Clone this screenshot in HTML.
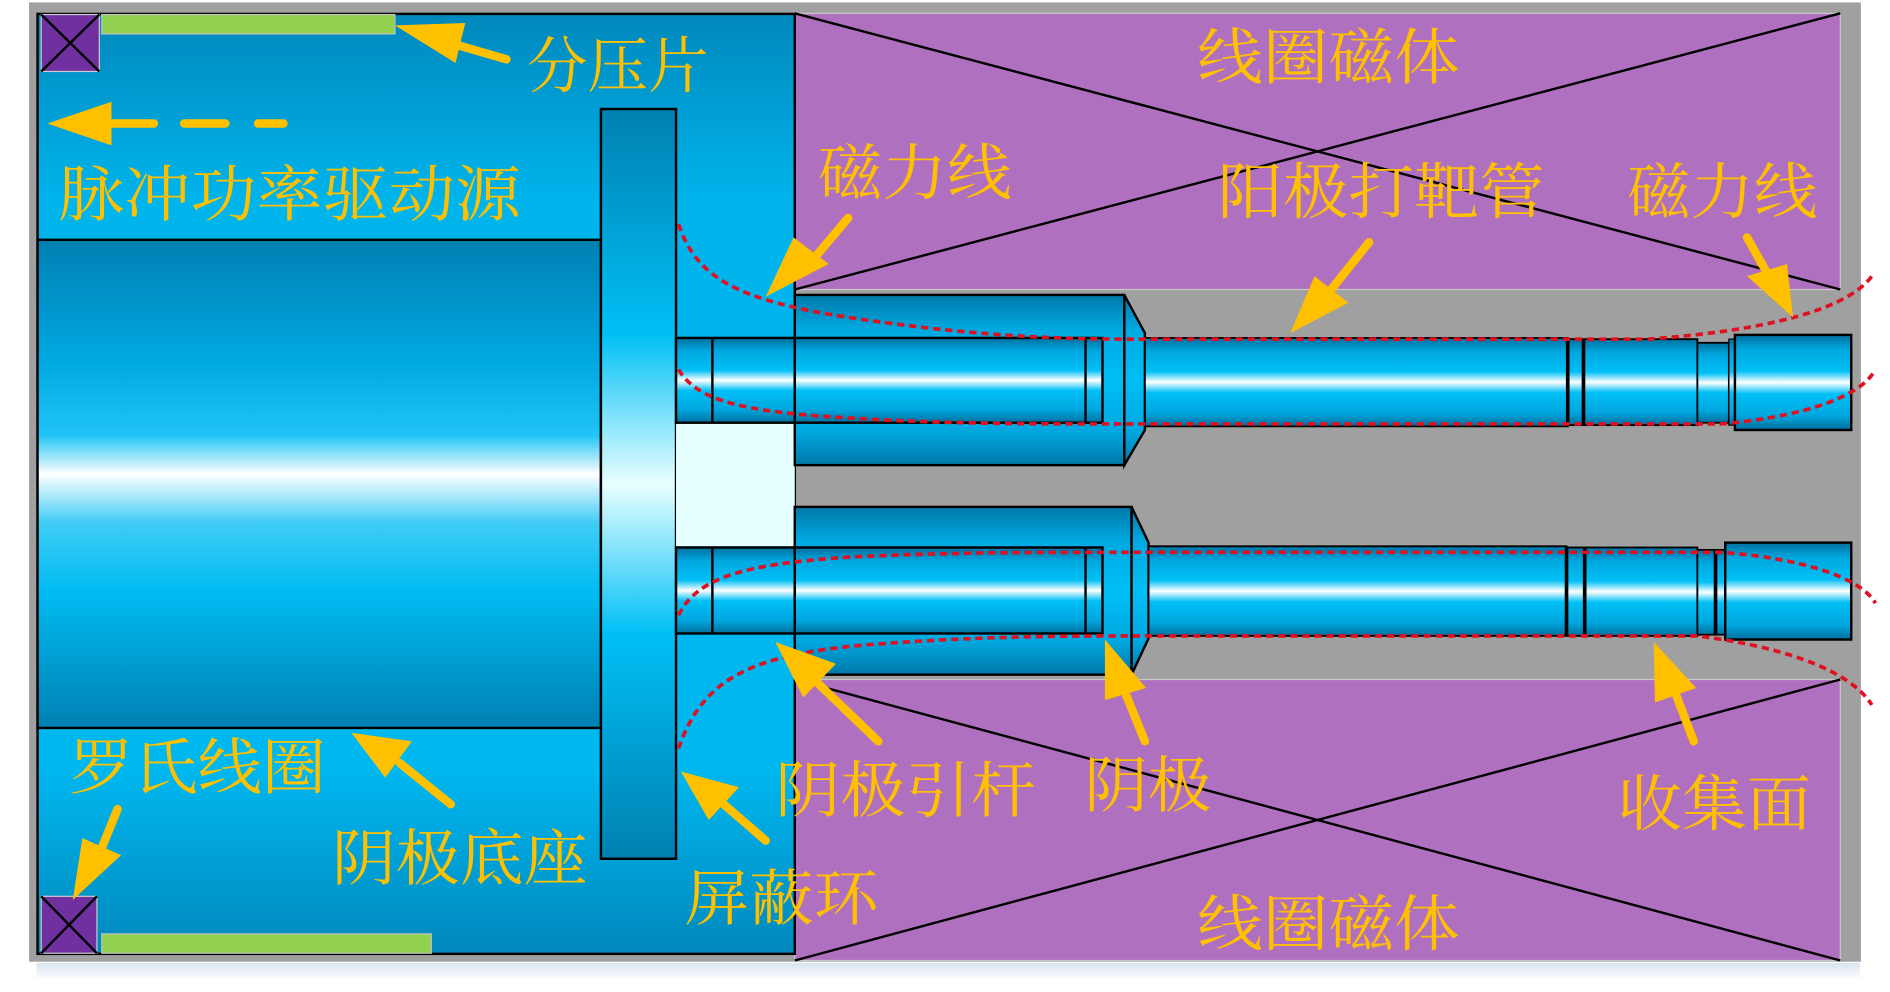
<!DOCTYPE html>
<html><head><meta charset="utf-8"><style>
html,body{margin:0;padding:0;background:#fff;}
svg{display:block;}
text{font-family:"Liberation Serif","Noto Serif CJK SC",serif;fill:#ffc000;font-size:50px;}
</style></head><body>
<svg width="1890" height="992" viewBox="0 0 1560 819" preserveAspectRatio="none" xmlns="http://www.w3.org/2000/svg">
<defs>
<linearGradient id="rod" x1="0" y1="0" x2="0" y2="1">
<stop offset="0" stop-color="#006f9e"/><stop offset="0.15" stop-color="#00a6de"/><stop offset="0.38" stop-color="#00c0f6"/><stop offset="0.5" stop-color="#ffffff"/><stop offset="0.62" stop-color="#00c0f6"/><stop offset="0.85" stop-color="#00a6de"/><stop offset="1" stop-color="#006f9e"/>
</linearGradient>
<linearGradient id="tube" x1="0" y1="0" x2="0" y2="1">
<stop offset="0" stop-color="#0078a8"/><stop offset="0.2" stop-color="#00a8e0"/><stop offset="0.5" stop-color="#00bff5"/><stop offset="0.8" stop-color="#00a8e0"/><stop offset="1" stop-color="#0078a8"/>
</linearGradient>
<linearGradient id="base" x1="0" y1="0" x2="0" y2="1">
<stop offset="0" stop-color="#0080b2"/><stop offset="0.25" stop-color="#00a8e2"/><stop offset="0.4" stop-color="#20c4f6"/><stop offset="0.48" stop-color="#ffffff"/><stop offset="0.58" stop-color="#40ccf6"/><stop offset="0.72" stop-color="#00bcf2"/><stop offset="1" stop-color="#0080b2"/>
</linearGradient>
<linearGradient id="panel" x1="0" y1="0" x2="0" y2="1">
<stop offset="0" stop-color="#0088bc"/><stop offset="0.2" stop-color="#00b4ec"/><stop offset="0.8" stop-color="#00b8f0"/><stop offset="1" stop-color="#0088bc"/>
</linearGradient>
<linearGradient id="flange" x1="0" y1="0" x2="0" y2="1">
<stop offset="0" stop-color="#0080b0"/><stop offset="0.3" stop-color="#00bff5"/><stop offset="0.5" stop-color="#e8ffff"/><stop offset="0.7" stop-color="#00bff5"/><stop offset="1" stop-color="#0080b0"/>
</linearGradient>
<linearGradient id="shade" x1="0" y1="0" x2="0" y2="1">
<stop offset="0" stop-color="#d8e4ee"/><stop offset="1" stop-color="#ffffff"/>
</linearGradient>
</defs>
<rect x="30" y="795" width="1505" height="14" fill="url(#shade)"/>
<rect x="24" y="2" width="1512" height="792" fill="#a0a0a0"/>
<rect x="656" y="11" width="863" height="228" fill="#b070c0" stroke="#c8c8c8"/>
<rect x="656" y="561" width="863" height="232" fill="#b070c0" stroke="#c8c8c8"/>
<path d="M656 11 L1519 239 M656 239 L1519 11 M656 561 L1519 793 M656 793 L1519 561" stroke="#000" stroke-width="2"/>
<rect x="31" y="11.5" width="625" height="776" fill="url(#panel)" stroke="#000" stroke-width="2"/>
<rect x="31" y="198" width="465" height="403" fill="url(#base)" stroke="#000" stroke-width="2"/>
<rect x="496" y="90" width="62" height="619" fill="url(#flange)" stroke="#000" stroke-width="2"/>
<rect x="558" y="349" width="98" height="102" fill="#e6ffff"/>
<rect x="558" y="279" width="98" height="70" fill="url(#rod)" stroke="#000" stroke-width="2"/>
<rect x="558" y="452" width="98" height="71" fill="url(#rod)" stroke="#000" stroke-width="2"/>
<path d="M588 279 V349 M588 452 V523" stroke="#000" stroke-width="2"/>
<rect x="34" y="12" width="48" height="47" fill="#7030a0" stroke="#ccc"/>
<path d="M34 12 L82 59 M82 12 L34 59" stroke="#000" stroke-width="2"/>
<rect x="34" y="740" width="46" height="47" fill="#7030a0" stroke="#ccc"/>
<path d="M34 740 L80 787 M80 740 L34 787" stroke="#000" stroke-width="2"/>
<rect x="84" y="12" width="242" height="16" fill="#92d050" stroke="#c0c0c0"/>
<rect x="84" y="771" width="272" height="16" fill="#92d050" stroke="#c0c0c0"/>
<rect x="656" y="243.5" width="272" height="140.5" fill="url(#tube)" stroke="#000" stroke-width="2"/>
<rect x="656" y="279" width="254" height="70" fill="url(#rod)" stroke="#000" stroke-width="2"/>
<path d="M896 279 V349" stroke="#000" stroke-width="2"/>
<polygon points="928,243.5 945,275 945,355 928,384" fill="url(#tube)" stroke="#000" stroke-width="2"/>
<rect x="945" y="279" width="349" height="73" fill="url(#rod)" stroke="#000" stroke-width="1.5"/>
<rect x="1294" y="280" width="107" height="71" fill="url(#rod)" stroke="#000" stroke-width="1.5"/>
<rect x="1401" y="283" width="26" height="66" fill="url(#rod)" stroke="#000" stroke-width="1.5"/>
<rect x="1427" y="280" width="5" height="71" fill="url(#rod)" stroke="#000" stroke-width="1"/>
<rect x="1432" y="276.5" width="96" height="78.5" fill="url(#rod)" stroke="#000" stroke-width="2"/>
<path d="M1294 279 V352 M1307 280 V351" stroke="#000" stroke-width="3"/>
<rect x="656" y="418.5" width="278" height="138.5" fill="url(#tube)" stroke="#000" stroke-width="2"/>
<rect x="656" y="452" width="254" height="71" fill="url(#rod)" stroke="#000" stroke-width="2"/>
<path d="M896 452 V523" stroke="#000" stroke-width="2"/>
<polygon points="934,418.5 948,448 948,527 934,557" fill="url(#tube)" stroke="#000" stroke-width="2"/>
<rect x="948" y="451" width="345" height="74" fill="url(#rod)" stroke="#000" stroke-width="1.5"/>
<rect x="1293" y="452" width="108" height="73" fill="url(#rod)" stroke="#000" stroke-width="1.5"/>
<rect x="1401" y="454" width="23" height="70" fill="url(#rod)" stroke="#000" stroke-width="1.5"/>
<rect x="1424" y="448" width="104" height="80" fill="url(#rod)" stroke="#000" stroke-width="2"/>
<path d="M1293 451 V525 M1308 452 V525 M1416 454 V524" stroke="#000" stroke-width="3"/>
<g fill="none" stroke="#e01020" stroke-width="3" stroke-dasharray="6,4">
<path d="M560 185 C575 230 610 248 700 262 C780 274 850 280 930 280 L1360 280 C1430 275 1520 262 1545 228"/>
<path d="M560 305 C575 330 610 340 700 345 C780 350 850 350 930 350 L1420 350 C1480 345 1535 330 1548 305"/>
<path d="M560 508 C575 478 610 466 700 460 C780 456 850 456 930 456 L1420 456 C1480 460 1535 475 1548 498"/>
<path d="M560 618 C580 560 620 540 720 532 C800 526 860 525 940 525 L1400 525 C1460 532 1525 550 1545 582"/>
</g>
<g fill="#ffc000" stroke="#ffc000" stroke-width="7" stroke-linecap="round">
<line x1="418" y1="49" x2="370" y2="35"/><polygon points="326,21 384,19 376,52" stroke="none"/>
<line x1="92" y1="102" x2="127" y2="102"/><line x1="152" y1="102" x2="186" y2="102"/><line x1="213" y1="102" x2="234" y2="102"/>
<polygon points="39,102 92,84 92,120" stroke="none"/>
<line x1="700" y1="180" x2="668" y2="218"/><polygon points="632,245 655,196 684,218" stroke="none"/>
<line x1="1130" y1="200" x2="1098" y2="240"/><polygon points="1065,275 1085,228 1113,250" stroke="none"/>
<line x1="1442" y1="196" x2="1460" y2="228"/><polygon points="1480,262 1442,228 1475,218" stroke="none"/>
<line x1="725" y1="612" x2="675" y2="564"/><polygon points="640,530 690,548 663,576" stroke="none"/>
<line x1="945" y1="612" x2="928" y2="570"/><polygon points="912,528 946,568 912,578" stroke="none"/>
<line x1="1398" y1="612" x2="1382" y2="570"/><polygon points="1365,530 1400,568 1366,580" stroke="none"/>
<line x1="632" y1="694" x2="595" y2="662"/><polygon points="562,637 610,650 585,677" stroke="none"/>
<line x1="372" y1="664" x2="330" y2="630"/><polygon points="290,605 340,612 318,642" stroke="none"/>
<line x1="97" y1="668" x2="84" y2="700"/><polygon points="60,743 68,692 100,706" stroke="none"/>
</g>
<text x="435" y="72">分压片</text>
<text x="48" y="178" textLength="382" lengthAdjust="spacingAndGlyphs">脉冲功率驱动源</text>
<text x="988" y="65" textLength="217" lengthAdjust="spacingAndGlyphs">线圈磁体</text>
<text x="675" y="160" textLength="160" lengthAdjust="spacingAndGlyphs">磁力线</text>
<text x="1005" y="176" textLength="270" lengthAdjust="spacingAndGlyphs">阳极打靶管</text>
<text x="1343" y="176" textLength="157" lengthAdjust="spacingAndGlyphs">磁力线</text>
<text x="57" y="651" textLength="212" lengthAdjust="spacingAndGlyphs">罗氏线圈</text>
<text x="274" y="726" textLength="211" lengthAdjust="spacingAndGlyphs">阴极底座</text>
<text x="565" y="759" textLength="160" lengthAdjust="spacingAndGlyphs">屏蔽环</text>
<text x="640" y="670" textLength="215" lengthAdjust="spacingAndGlyphs">阴极引杆</text>
<text x="895" y="666" textLength="105" lengthAdjust="spacingAndGlyphs">阴极</text>
<text x="1335" y="681" textLength="160" lengthAdjust="spacingAndGlyphs">收集面</text>
<text x="988" y="780" textLength="217" lengthAdjust="spacingAndGlyphs">线圈磁体</text>
</svg>
</body></html>
